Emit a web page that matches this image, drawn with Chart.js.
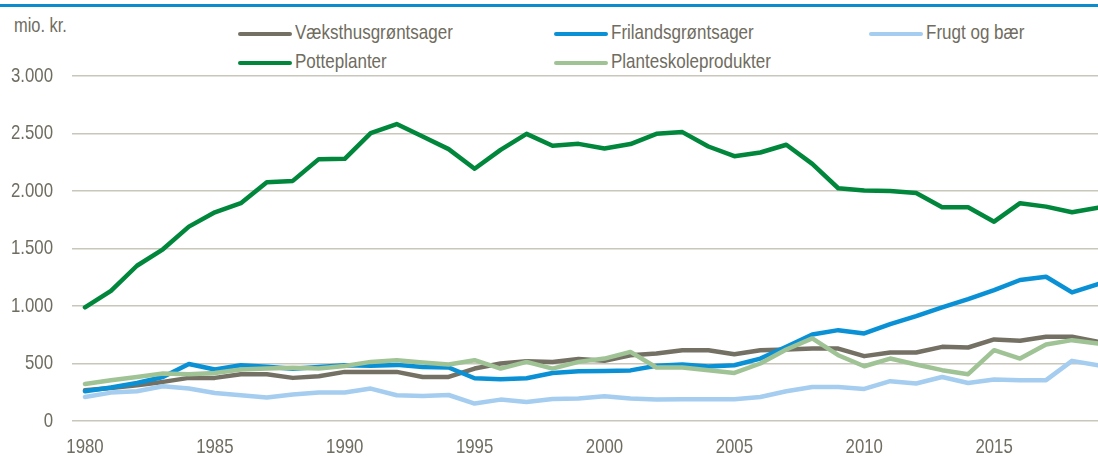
<!DOCTYPE html>
<html>
<head>
<meta charset="utf-8">
<script src="https://cdn.jsdelivr.net/npm/chart.js@4/dist/chart.umd.min.js"></script>
<style>
  html, body { margin: 0; padding: 0; background: #fff; }
  #wrap { position: relative; width: 1098px; height: 457px; font-family: "Liberation Sans", Arial, sans-serif; color: #6f6c60; }
  #topline { position: absolute; left: 0; top: 4px; width: 1098px; height: 3px; background: #0a8ccf; }
  #unit { position: absolute; left: 14px; top: 14px; font-size: 20px; line-height: 22px; transform: scaleX(0.82); transform-origin: left top; white-space: nowrap; }
  .leg { position: absolute; font-size: 21px; line-height: 24px; display: flex; align-items: center; white-space: nowrap; }
  .leg .mk { display: inline-block; width: 54px; height: 4px; border-radius: 2px; margin-right: 3px; position: relative; top: 2px; }
  .leg .tx { display: inline-block; transform: scaleX(0.81); transform-origin: left center; }
  canvas { position: absolute; left: 0; top: 0; }
</style>
</head>
<body>
<div id="wrap">
  <div id="topline"></div>
  <div id="unit">mio. kr.</div>
  <div id="legend"></div>
  <canvas id="chart" width="1098" height="457"></canvas>
</div>
<script>
// Data (mio. kr.)
const years = [1980, 1981, 1982, 1983, 1984, 1985, 1986, 1987, 1988, 1989,
  1990, 1991, 1992, 1993, 1994, 1995, 1996, 1997, 1998, 1999,
  2000, 2001, 2002, 2003, 2004, 2005, 2006, 2007, 2008, 2009,
  2010, 2011, 2012, 2013, 2014, 2015, 2016, 2017, 2018, 2019];
const xTicks = [1980, 1985, 1990, 1995, 2000, 2005, 2010, 2015];

const vaeksthus = [267, 287, 311, 340, 375, 375, 407, 407, 375, 389,
  427, 427, 427, 383, 383, 456, 500, 520, 514, 540,
  523, 572, 587, 616, 616, 580, 616, 622, 630, 630,
  564, 596, 596, 645, 639, 709, 697, 732, 732, 688];
const friland = [259, 291, 331, 383, 496, 448, 485, 472, 455, 470,
  485, 480, 488, 470, 465, 372, 364, 372, 418, 433,
  435, 440, 480, 492, 473, 485, 543, 645, 752, 790,
  761, 842, 912, 988, 1060, 1138, 1226, 1254, 1118, 1191];
const frugt = [209, 247, 259, 302, 282, 244, 224, 204, 230, 247,
  247, 282, 224, 218, 226, 152, 186, 166, 192, 195,
  215, 195, 186, 189, 189, 189, 209, 259, 296, 296,
  279, 346, 326, 383, 331, 361, 355, 355, 523, 485];
const potte = [988, 1132, 1350, 1493, 1690, 1815, 1894, 2077, 2088, 2277,
  2280, 2504, 2582, 2474, 2364, 2193, 2358, 2497, 2393, 2410,
  2370, 2408, 2497, 2512, 2387, 2303, 2335, 2402, 2236, 2024,
  2004, 2001, 1983, 1859, 1859, 1733, 1894, 1864, 1815, 1855];
const planteskole = [322, 355, 383, 413, 407, 418, 448, 456, 462, 456,
  479, 514, 529, 508, 491, 529, 456, 514, 456, 514,
  543, 601, 465, 465, 442, 418, 500, 622, 718, 572,
  476, 543, 491, 442, 407, 616, 543, 665, 703, 674];

const seriesNames = ['Væksthusgrøntsager', 'Frilandsgrøntsager', 'Frugt og bær', 'Potteplanter', 'Planteskoleprodukter'];
const seriesValues = [vaeksthus, friland, frugt, potte, planteskole];
const seriesColors = ['#747164', '#0a91d5', '#a5cdef', '#00873c', '#a0c396'];

const textColor = '#6f6c60';
const gridColor = '#c9c6bc';
const fontFamily = '"Liberation Sans", Arial, sans-serif';
const squeeze = 0.8; // source text is horizontally condensed

function formatDa(v) {
  return String(v).replace(/\B(?=(\d{3})+(?!\d))/g, '.');
}

// Legend (Excel style grid, 3 columns)
const legendCols = [238, 554, 869];
const legendRows = [19.5, 48.5];
const legend = document.getElementById('legend');
seriesNames.forEach((name, i) => {
  const item = document.createElement('div');
  item.className = 'leg';
  item.style.left = legendCols[i % 3] + 'px';
  item.style.top = legendRows[Math.floor(i / 3)] + 'px';
  item.innerHTML = `<span class="mk" style="background:${seriesColors[i]}"></span><span class="tx">${name}</span>`;
  legend.appendChild(item);
});

// tick labels drawn narrow, placed by the chart's own scales
const narrowTicks = {
  id: 'narrowTicks',
  afterDraw(chart) {
    const ctx = chart.ctx;
    const area = chart.chartArea;
    ctx.save();
    ctx.fillStyle = textColor;
    ctx.font = `21px ${fontFamily}`;

    const yScale = chart.scales.y;
    ctx.textAlign = 'right';
    ctx.textBaseline = 'middle';
    yScale.ticks.forEach(t => {
      const py = yScale.getPixelForValue(t.value);
      ctx.save();
      ctx.translate(area.left - 19, py);
      ctx.scale(squeeze, 1);
      ctx.fillText(formatDa(t.value), 0, 0);
      ctx.restore();
    });

    const xScale = chart.scales.x;
    ctx.textAlign = 'center';
    ctx.textBaseline = 'alphabetic';
    xScale.ticks.forEach(t => {
      const px = xScale.getPixelForValue(t.value);
      ctx.save();
      ctx.translate(px, area.bottom + 32);
      ctx.scale(squeeze, 1);
      ctx.fillText(String(t.value), 0, 0);
      ctx.restore();
    });
    ctx.restore();
  }
};

const datasets = seriesNames.map((name, i) => ({
  label: name,
  data: years.map((yr, j) => ({ x: yr, y: seriesValues[i][j] })),
  borderColor: seriesColors[i],
  backgroundColor: seriesColors[i],
  borderWidth: 4.5,
  pointRadius: 0,
  tension: 0,
  borderCapStyle: 'round',
  borderJoinStyle: 'round',
  order: seriesNames.length - i
}));

const chart = new Chart('chart', {
  type: 'line',
  data: { datasets: datasets },
  options: {
    responsive: false,
    animation: false,
    layout: { padding: { top: 76, left: 0, right: 0, bottom: 0 } },
    plugins: {
      legend: { display: false },
      tooltip: { enabled: false }
    },
    scales: {
      x: {
        type: 'linear',
        min: 1979.5,
        max: 2019,
        afterBuildTicks: scale => { scale.ticks = xTicks.map(v => ({ value: v })); },
        afterFit: scale => { scale.height = 36; },
        grid: { display: false, drawTicks: false },
        border: { display: false },
        ticks: { display: false }
      },
      y: {
        min: 0,
        max: 3000,
        afterFit: scale => { scale.width = 72; },
        grid: { color: gridColor, lineWidth: 1.5, drawTicks: false },
        border: { display: false },
        ticks: { stepSize: 500, display: false }
      }
    }
  },
  plugins: [narrowTicks]
});
</script>
</body>
</html>
